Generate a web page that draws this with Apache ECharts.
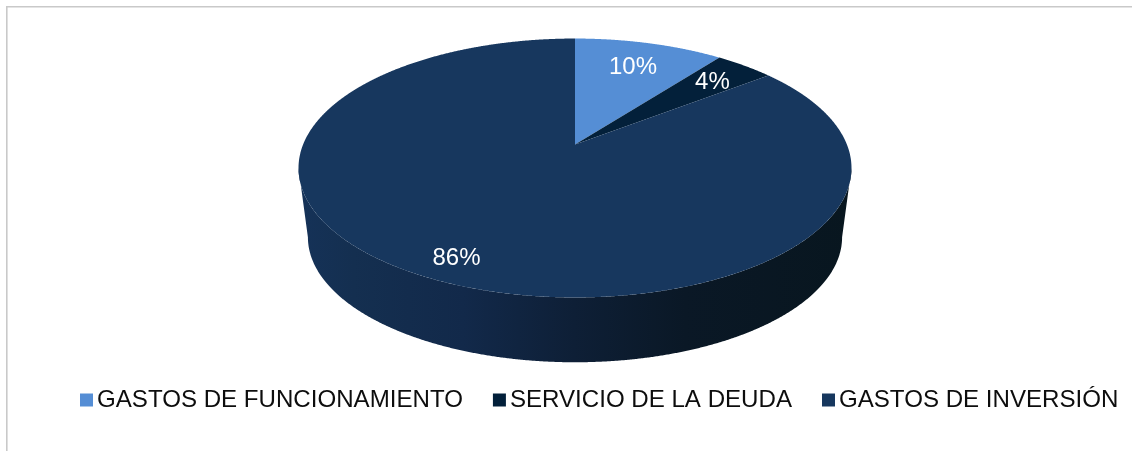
<!DOCTYPE html>
<html>
<head>
<meta charset="utf-8">
<style>html,body{margin:0;padding:0;background:#fff}#c{width:1132px;height:451px}</style>
<script src="https://cdn.jsdelivr.net/npm/echarts@6/dist/echarts.min.js"></script>
</head>
<body>
<div id="c"></div>
<script>
const categories = ['GASTOS DE FUNCIONAMIENTO', 'SERVICIO DE LA DEUDA', 'GASTOS DE INVERSIÓN'];
const values = [10.4, 4.1, 85.5];
const colors = ['#558ed5', '#03203a', '#17375e'];
const labelRadius = [0.75, 0.79, 0.853];

const FONT = '"Liberation Sans", Arial, sans-serif';
const total = values.reduce((a, b) => a + b, 0);
const cx = 575, cy = 144.5, a = 271.9, b = 125.2, k = 0.1815;
const bottomScale = 0.966, bottomCy = 214.5;
const visibleFrom = Math.acos(-k), visibleTo = 2 * Math.PI - visibleFrom;

function project(theta, r, scale, y0) {
  const u = r * Math.sin(theta), v = r * Math.cos(theta), d = 1 + k * v;
  return [cx + a * scale * u / d, y0 - b * scale * v / d];
}
function arc(t0, t1, scale, y0) {
  const n = Math.max(2, Math.ceil((t1 - t0) / 0.004)), pts = [];
  for (let i = 0; i <= n; i++) pts.push(project(t0 + (t1 - t0) * i / n, 1, scale, y0));
  return pts;
}
const sideGradient = {
  type: 'linear', x: 298, y: 0, x2: 851, y2: 0, global: true,
  colorStops: [
    { offset: 0, color: '#153258' },
    { offset: 0.1, color: '#142f50' },
    { offset: 0.3, color: '#12294a' },
    { offset: 0.5, color: '#0e1f36' },
    { offset: 0.7, color: '#0a1826' },
    { offset: 1, color: '#08161f' }
  ]
};

function makeRender(idx) {
  return function () {
    const before = values.slice(0, idx).reduce((s, x) => s + x, 0);
    const t0 = before / total * 2 * Math.PI;
    const t1 = (before + values[idx]) / total * 2 * Math.PI;
    const children = [];
    const s0 = Math.max(t0, visibleFrom), s1 = Math.min(t1, visibleTo);
    if (s1 > s0) {
      const points = arc(s0, s1, 1, cy).concat(arc(s0, s1, bottomScale, bottomCy).reverse());
      children.push({ type: 'polygon', shape: { points }, style: { fill: sideGradient }, z2: 1 });
    }
    children.push({
      type: 'polygon',
      shape: { points: [[cx, cy]].concat(arc(t0, t1, 1, cy)) },
      style: { fill: colors[idx] },
      z2: 2
    });
    const [lx, ly] = project((t0 + t1) / 2, labelRadius[idx], 1, cy);
    children.push({
      type: 'text',
      z2: 10,
      style: {
        x: lx, y: ly + 2, text: Math.round(values[idx] / total * 100) + '%',
        fill: '#ffffff', fontSize: 24, fontFamily: FONT,
        align: 'center', verticalAlign: 'middle'
      }
    });
    return { type: 'group', children };
  };
}

const chart = echarts.init(document.getElementById('c'), null, { renderer: 'canvas' });
chart.setOption({
  animation: false,
  backgroundColor: '#ffffff',
  legend: {
    left: 75, top: 383, icon: 'rect', itemWidth: 13, itemHeight: 13, itemGap: 30,
    data: categories,
    textStyle: { fontSize: 24.1, fontFamily: FONT, color: '#0d0d0d', padding: [0, 0, 0, -1] }
  },
  graphic: [
    { type: 'line', shape: { x1: 6.8, y1: 6.8, x2: 1132, y2: 6.8 }, style: { stroke: '#c9c9c9', lineWidth: 1.6 } },
    { type: 'line', shape: { x1: 6.8, y1: 6, x2: 6.8, y2: 451 }, style: { stroke: '#c9c9c9', lineWidth: 1.6 } }
  ],
  series: categories.map((name, i) => ({
    type: 'custom',
    name,
    coordinateSystem: 'none',
    silent: true,
    itemStyle: { color: colors[i] },
    data: [values[i]],
    renderItem: makeRender(i)
  }))
});
</script>
</body>
</html>
